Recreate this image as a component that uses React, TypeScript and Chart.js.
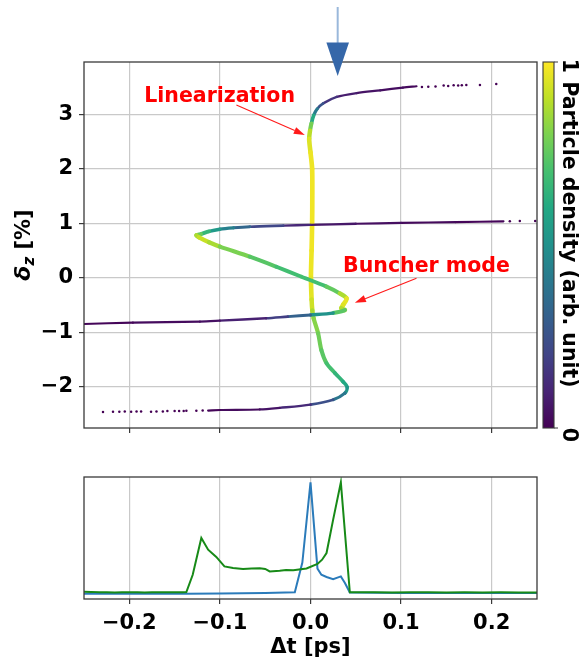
import React, { useEffect, useRef } from 'react';
import { Chart, registerables } from 'chart.js';

Chart.register(...registerables);

const FONT = '"DejaVu Sans", "Liberation Sans", sans-serif';

// ---------------- top panel: longitudinal phase space ----------------
const X_MIN = -0.25;
const X_MAX = 0.25;
const Y_MIN = -2.76;
const Y_MAX = 3.96;
const X_TICKS = [-0.2, -0.1, 0, 0.1, 0.2];
const Y_TICKS = [-2, -1, 0, 1, 2, 3];

// branch A: upper tail -> vertical (linearized) core -> lower loop -> lower tail
const branchA_t = [0.117, 0.102, 0.077, 0.051, 0.029, 0.014, 0.0075, 0.0035, 0.001, -0.0005, -0.0015, 0.0, 0.0018, 0.002, 0.0018, 0.0012, 0.0005, 0.0012, 0.002, 0.0035, 0.0084, 0.012, 0.0177, 0.0269, 0.036, 0.0405, 0.038, 0.025, 0.0, -0.034, -0.056, -0.1, -0.113];
const branchA_d = [3.515, 3.49, 3.44, 3.39, 3.32, 3.2, 3.1, 2.98, 2.83, 2.7, 2.55, 2.3, 2.0, 1.5, 1.0, 0.5, 0.0, -0.4, -0.6, -0.75, -1.02, -1.33, -1.57, -1.75, -1.91, -2.01, -2.12, -2.24, -2.33, -2.39, -2.42, -2.43, -2.44];
const branchA_rho = [0.02, 0.03, 0.04, 0.06, 0.1, 0.2, 0.32, 0.5, 0.72, 0.86, 0.93, 0.97, 0.98, 0.98, 0.98, 0.98, 0.97, 0.95, 0.9, 0.84, 0.8, 0.76, 0.72, 0.68, 0.62, 0.58, 0.46, 0.32, 0.16, 0.07, 0.04, 0.02, 0.01];

// branch B: delta~1 line -> left tip -> diagonal -> buncher tip -> delta~-0.8 line
const branchB_t = [0.213, 0.16, 0.1, 0.05, 0.0, -0.03, -0.067, -0.085, -0.1, -0.112, -0.121, -0.126, -0.123, -0.112, -0.1, -0.067, -0.0376, -0.012, 0.0177, 0.0324, 0.0398, 0.036, 0.034, 0.038, 0.025, 0.0, -0.025, -0.049, -0.1, -0.122, -0.196, -0.251];
const branchB_d = [1.035, 1.02, 1.005, 0.99, 0.97, 0.955, 0.935, 0.915, 0.89, 0.85, 0.8, 0.78, 0.74, 0.65, 0.57, 0.385, 0.2, 0.03, -0.165, -0.29, -0.38, -0.5, -0.56, -0.595, -0.65, -0.685, -0.715, -0.745, -0.79, -0.807, -0.826, -0.85];
const branchB_rho = [0.01, 0.02, 0.03, 0.05, 0.08, 0.14, 0.28, 0.38, 0.48, 0.6, 0.72, 0.82, 0.93, 0.9, 0.84, 0.76, 0.71, 0.68, 0.71, 0.8, 0.95, 0.98, 0.92, 0.84, 0.64, 0.38, 0.24, 0.13, 0.05, 0.04, 0.02, 0.01];

// sparse tail particles
const tail_t = [0.123, 0.13, 0.138, 0.147, 0.152, 0.158, 0.163, 0.167, 0.172, 0.187, 0.205, 0.22, 0.231, 0.248, -0.229, -0.218, -0.211, -0.205, -0.198, -0.192, -0.187, -0.176, -0.17, -0.163, -0.158, -0.15, -0.145, -0.14, -0.137, -0.126, -0.119];
const tail_d = [3.5, 3.505, 3.51, 3.53, 3.52, 3.535, 3.53, 3.535, 3.54, 3.54, 3.555, 1.035, 1.04, 1.04, -2.465, -2.46, -2.46, -2.455, -2.46, -2.455, -2.455, -2.46, -2.455, -2.455, -2.45, -2.45, -2.45, -2.45, -2.445, -2.445, -2.44];

// ---------------- bottom panel: current profiles ----------------
const B_Y_MIN = -0.048;
const B_Y_MAX = 1.048;
const greenT = [-0.25, -0.242, -0.233, -0.225, -0.216, -0.208, -0.2, -0.191, -0.183, -0.175, -0.166, -0.158, -0.15, -0.141, -0.137, -0.13, -0.1205, -0.113, -0.104, -0.095, -0.0855, -0.0745, -0.065, -0.056, -0.05, -0.045, -0.034, -0.027, -0.019, -0.0044, 0.0077, 0.0128, 0.0177, 0.025, 0.0335, 0.0434, 0.05, 0.07, 0.09, 0.11, 0.13, 0.15, 0.17, 0.19, 0.21, 0.23, 0.25];
const greenV = [0.018, 0.016, 0.012, 0.013, 0.011, 0.012, 0.013, 0.012, 0.011, 0.013, 0.012, 0.013, 0.012, 0.013, 0.014, 0.17, 0.5, 0.395, 0.33, 0.245, 0.23, 0.221, 0.226, 0.229, 0.222, 0.2, 0.205, 0.212, 0.21, 0.226, 0.267, 0.305, 0.365, 0.665, 1.0, 0.012, 0.013, 0.012, 0.011, 0.012, 0.013, 0.011, 0.012, 0.011, 0.012, 0.01, 0.011];
const blueT = [-0.25, -0.137, -0.1, -0.05, -0.0173, -0.009, 0.0, 0.0077, 0.012, 0.0177, 0.025, 0.0335, 0.038, 0.0434, 0.1, 0.25];
const blueV = [0.0, 0.0, 0.002, 0.006, 0.012, 0.28, 1.0, 0.225, 0.17, 0.15, 0.13, 0.155, 0.096, 0.01, 0.006, 0.006];

// annotations (data coordinates of the top panel)
const ANN_LABELS = ['Linearization', 'Buncher mode'];
const ANN_TEXT_T = [-0.1003, 0.128];
const ANN_TEXT_D = [3.33, 0.2];
const ANN_TAIL_T = [-0.0818, 0.117];
const ANN_TAIL_D = [3.17, -0.01];
const ANN_HEAD_T = [-0.0063, 0.049];
const ANN_HEAD_D = [2.62, -0.46];
const MARK_T = 0.03; // blue marker position

const CB_TICKS = ['0', '1'];
const CB_LABEL = 'Particle density (arb. unit)';

// viridis colormap
const VIRIDIS = ['#440154', '#482475', '#414487', '#355f8d', '#2a788e', '#21918c', '#22a884', '#44bf70', '#7ad151', '#bddf26', '#fde725'];
function hex(h: string) {
  return [parseInt(h.slice(1, 3), 16), parseInt(h.slice(3, 5), 16), parseInt(h.slice(5, 7), 16)];
}
function viridis(v: number) {
  const t = Math.max(0, Math.min(1, v)) * 10;
  const i = Math.min(9, Math.floor(t));
  const f = t - i;
  const a = hex(VIRIDIS[i]);
  const b = hex(VIRIDIS[i + 1]);
  const c = a.map((x, k) => Math.round(x + (b[k] - x) * f));
  return `rgb(${c[0]},${c[1]},${c[2]})`;
}

const pts = (xs: number[], ys: number[]) => xs.map((x, i) => ({ x, y: ys[i] }));

function seg(rho: number[]) {
  const m = (c: any) => (rho[c.p0DataIndex] + rho[c.p1DataIndex]) / 2;
  return {
    borderColor: (c: any) => viridis(m(c)),
    borderWidth: (c: any) => 2.1 + 2.6 * m(c),
  };
}

const GRID = '#c9c9c9';
const DARK = '#3a3a3a';
const fmtX = (v: number) => (Math.abs(v) < 1e-9 ? '0.0' : (v < 0 ? '\u2212' : '') + Math.abs(v).toFixed(1));
const fmtY = (v: number) => (v < 0 ? '\u2212' + Math.abs(v) : String(v));

function arrow(ctx: CanvasRenderingContext2D, x0: number, y0: number, x1: number, y1: number, color: string) {
  const ang = Math.atan2(y1 - y0, x1 - x0);
  const hl = 11;
  const hw = 3.6;
  const bx = x1 - hl * Math.cos(ang);
  const by = y1 - hl * Math.sin(ang);
  ctx.strokeStyle = color;
  ctx.fillStyle = color;
  ctx.lineWidth = 1.1;
  ctx.beginPath();
  ctx.moveTo(x0, y0);
  ctx.lineTo(bx, by);
  ctx.stroke();
  ctx.beginPath();
  ctx.moveTo(x1, y1);
  ctx.lineTo(bx + hw * Math.sin(ang), by - hw * Math.cos(ang));
  ctx.lineTo(bx - hw * Math.sin(ang), by + hw * Math.cos(ang));
  ctx.closePath();
  ctx.fill();
}

const topDecor = {
  id: 'topDecor',
  afterDraw(chart: any) {
    const { ctx, chartArea: a } = chart;
    const xs = chart.scales.x;
    const ys = chart.scales.y;
    ctx.save();
    // frame
    ctx.lineWidth = 1.3;
    ctx.strokeStyle = DARK;
    ctx.strokeRect(a.left, a.top, a.right - a.left, a.bottom - a.top);

    // annotations
    ANN_LABELS.forEach((lab, i) => {
      ctx.font = `bold 20.5px ${FONT}`;
      ctx.fillStyle = '#ff0000';
      ctx.textAlign = 'center';
      ctx.textBaseline = 'middle';
      ctx.fillText(lab, xs.getPixelForValue(ANN_TEXT_T[i]), ys.getPixelForValue(ANN_TEXT_D[i]));
      arrow(
        ctx,
        xs.getPixelForValue(ANN_TAIL_T[i]), ys.getPixelForValue(ANN_TAIL_D[i]),
        xs.getPixelForValue(ANN_HEAD_T[i]), ys.getPixelForValue(ANN_HEAD_D[i]),
        '#ff1a1a'
      );
    });

    // blue marker arrow at the top
    const mx = xs.getPixelForValue(MARK_T);
    ctx.strokeStyle = '#9ab8db';
    ctx.lineWidth = 2;
    ctx.beginPath();
    ctx.moveTo(mx, 7);
    ctx.lineTo(mx, 44);
    ctx.stroke();
    ctx.fillStyle = '#3567a9';
    ctx.beginPath();
    ctx.moveTo(mx - 11.3, 42.5);
    ctx.lineTo(mx + 11.3, 42.5);
    ctx.lineTo(mx, 76);
    ctx.closePath();
    ctx.fill();

    // colorbar
    const cbL = a.right + 6;
    const cbW = 11;
    const g = ctx.createLinearGradient(0, a.bottom, 0, a.top);
    VIRIDIS.forEach((c, i) => g.addColorStop(i / 10, c));
    ctx.fillStyle = g;
    ctx.fillRect(cbL, a.top, cbW, a.bottom - a.top);
    ctx.strokeStyle = DARK;
    ctx.lineWidth = 1.1;
    ctx.strokeRect(cbL, a.top, cbW, a.bottom - a.top);
    ctx.beginPath();
    ctx.moveTo(cbL + cbW, a.top);
    ctx.lineTo(cbL + cbW + 4, a.top);
    ctx.moveTo(cbL + cbW, a.bottom);
    ctx.lineTo(cbL + cbW + 4, a.bottom);
    ctx.stroke();

    ctx.fillStyle = '#000';
    ctx.textAlign = 'center';
    ctx.textBaseline = 'alphabetic';
    const bx = cbL + cbW + 8.5;
    const drawRot = (txt: string, y: number, size: number) => {
      ctx.save();
      ctx.translate(bx, y);
      ctx.rotate(Math.PI / 2);
      ctx.font = `bold ${size}px ${FONT}`;
      ctx.fillText(txt, 0, 0);
      ctx.restore();
    };
    drawRot(CB_TICKS[1], a.top + 4, 20.5);
    drawRot(CB_TICKS[0], a.bottom + 7, 20.5);
    drawRot(CB_LABEL, 234.5, 20.5);

    // y-axis label  delta_z [%]
    ctx.save();
    ctx.translate(30, (a.top + a.bottom) / 2);
    ctx.rotate(-Math.PI / 2);
    ctx.textAlign = 'left';
    ctx.textBaseline = 'alphabetic';
    const fD = `italic bold 22px ${FONT}`;
    const fZ = `italic bold 15px ${FONT}`;
    const fR = `bold 21px ${FONT}`;
    ctx.font = fD;
    const w1 = ctx.measureText('\u03b4').width;
    ctx.font = fZ;
    const w2 = ctx.measureText('z').width;
    ctx.font = fR;
    const w3 = ctx.measureText(' [%]').width;
    let x = -(w1 + w2 + w3) / 2;
    ctx.font = fD;
    ctx.fillText('\u03b4', x, 0);
    x += w1;
    ctx.font = fZ;
    ctx.fillText('z', x, 4);
    x += w2;
    ctx.font = fR;
    ctx.fillText(' [%]', x, 0);
    ctx.restore();

    ctx.restore();
  },
};

const botDecor = {
  id: 'botDecor',
  afterDraw(chart: any) {
    const { ctx, chartArea: a } = chart;
    ctx.save();
    ctx.lineWidth = 1.3;
    ctx.strokeStyle = DARK;
    ctx.strokeRect(a.left, a.top, a.right - a.left, a.bottom - a.top);
    ctx.fillStyle = '#000';
    ctx.font = `bold 21px ${FONT}`;
    ctx.textAlign = 'center';
    ctx.textBaseline = 'middle';
    ctx.fillText('\u0394t [ps]', (a.left + a.right) / 2, 188);
    ctx.restore();
  },
};

const tickFont = { family: FONT, size: 21, weight: 'bold' as const };

function xScale(showLabels: boolean, height: number) {
  return {
    type: 'linear' as const,
    min: X_MIN,
    max: X_MAX,
    afterBuildTicks: (s: any) => {
      s.ticks = X_TICKS.map((v) => ({ value: v }));
    },
    afterFit: (s: any) => {
      s.height = height;
    },
    ticks: {
      display: showLabels,
      font: tickFont,
      color: '#000',
      padding: 7,
      maxRotation: 0,
      autoSkip: false,
      callback: (v: any) => fmtX(Number(v)),
    },
    grid: { color: GRID, lineWidth: 1.2, tickColor: DARK, tickWidth: 1.2, tickLength: 5 },
    border: { display: false },
  };
}

const curveStyle = {
  showLine: true,
  pointRadius: 0,
  borderColor: viridis(0),
  borderWidth: 2,
  borderCapStyle: 'round',
  borderJoinStyle: 'round',
  tension: 0.3,
};

export default function App() {
  const topRef = useRef<HTMLCanvasElement>(null);
  const botRef = useRef<HTMLCanvasElement>(null);

  useEffect(() => {
    const top = new Chart(topRef.current as HTMLCanvasElement, {
      type: 'scatter',
      data: {
        datasets: [
          { ...curveStyle, data: pts(branchB_t, branchB_d), segment: seg(branchB_rho) } as any,
          { ...curveStyle, data: pts(branchA_t, branchA_d), segment: seg(branchA_rho) } as any,
          {
            data: pts(tail_t, tail_d),
            showLine: false,
            pointRadius: 1.25,
            pointBorderWidth: 0,
            backgroundColor: '#440154',
            borderColor: '#440154',
          },
        ],
      },
      options: {
        animation: false,
        responsive: false,
        maintainAspectRatio: false,
        events: [],
        layout: { padding: { top: 62, right: 50, left: 0, bottom: 0 } },
        plugins: { legend: { display: false }, tooltip: { enabled: false } },
        scales: {
          x: xScale(false, 32) as any,
          y: {
            type: 'linear',
            min: Y_MIN,
            max: Y_MAX,
            afterBuildTicks: (s: any) => {
              s.ticks = Y_TICKS.map((v) => ({ value: v }));
            },
            afterFit: (s: any) => {
              s.width = 84;
            },
            ticks: {
              font: tickFont,
              color: '#000',
              padding: 6,
              autoSkip: false,
              callback: (v: any) => fmtY(Number(v)),
            },
            grid: { color: GRID, lineWidth: 1.2, tickColor: DARK, tickWidth: 1.2, tickLength: 5 },
            border: { display: false },
          } as any,
        },
      },
      plugins: [topDecor],
    });

    const bot = new Chart(botRef.current as HTMLCanvasElement, {
      type: 'scatter',
      data: {
        datasets: [
          {
            data: pts(greenT, greenV),
            showLine: true,
            pointRadius: 0,
            borderColor: '#178a17',
            borderWidth: 2,
          },
          {
            data: pts(blueT, blueV),
            showLine: true,
            pointRadius: 0,
            borderColor: '#2b7bba',
            borderWidth: 2,
          },
        ],
      },
      options: {
        animation: false,
        responsive: false,
        maintainAspectRatio: false,
        events: [],
        layout: { padding: { top: 17, right: 50, left: 84, bottom: 0 } },
        plugins: { legend: { display: false }, tooltip: { enabled: false } },
        scales: {
          x: xScale(true, 61) as any,
          y: { type: 'linear', min: B_Y_MIN, max: B_Y_MAX, display: false },
        },
      },
      plugins: [botDecor],
    });

    return () => {
      top.destroy();
      bot.destroy();
    };
  }, []);

  return (
    <div style={{ position: 'absolute', left: 0, top: 0, width: 587, height: 660, background: '#fff' }}>
      <canvas ref={topRef} width={587} height={460} style={{ position: 'absolute', left: 0, top: 0, width: 587, height: 460 }} />
      <canvas ref={botRef} width={587} height={200} style={{ position: 'absolute', left: 0, top: 460, width: 587, height: 200 }} />
    </div>
  );
}
